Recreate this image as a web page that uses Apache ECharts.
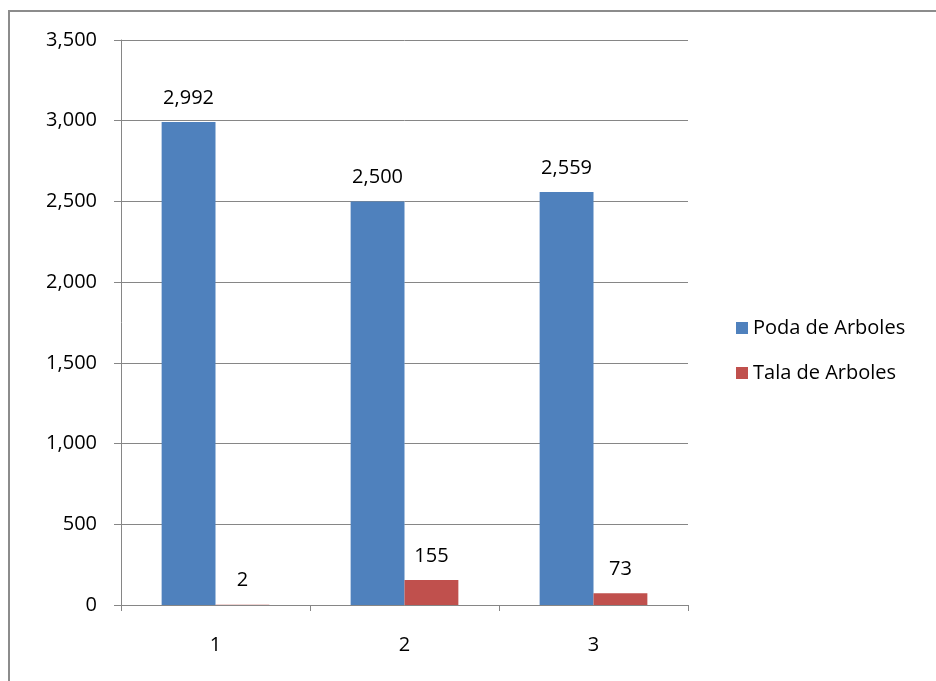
<!DOCTYPE html>
<html>
<head>
<meta charset="utf-8">
<script src="https://cdn.jsdelivr.net/npm/echarts@6/dist/echarts.min.js"></script>
<style>
html,body{margin:0;padding:0;background:#fff;}
#frame{position:absolute;left:8px;top:10px;width:1000px;height:1000px;border-left:2px solid #8c8c8c;border-top:2px solid #8c8c8c;box-sizing:border-box;}
#chart{position:absolute;left:0;top:0;width:936px;height:681px;}
</style>
</head>
<body>
<div id="frame"></div>
<div id="chart"></div>
<script>
const categories = ['1', '2', '3'];
const podaValues = [2992, 2500, 2559];
const talaValues = [2, 155, 73];
const seriesNames = ['Poda de Arboles', 'Tala de Arboles'];

const fmt = v => Number(v).toLocaleString('en-US');
const font = "'Open Sans', 'Noto Sans', sans-serif";
const fs = 20;

const chart = echarts.init(document.getElementById('chart'));
chart.setOption({
  animation: false,
  backgroundColor: 'transparent',
  textStyle: { fontFamily: font },
  grid: { left: 121, right: 248, top: 40, bottom: 76, containLabel: false },
  legend: {
    orient: 'vertical',
    left: 731,
    top: 313,
    itemWidth: 12,
    itemHeight: 12,
    itemGap: 25,
    icon: 'rect',
    textStyle: { fontSize: fs, color: '#000', fontFamily: font, padding: [0, 0, 0, 0] },
    data: seriesNames
  },
  xAxis: {
    type: 'category',
    data: categories,
    axisLine: { lineStyle: { color: '#868686', width: 1 } },
    axisTick: { show: true, length: 6, lineStyle: { color: '#868686' } },
    axisLabel: { fontSize: fs, color: '#000', margin: 30, fontFamily: font }
  },
  yAxis: {
    type: 'value',
    min: 0,
    max: 3500,
    interval: 500,
    axisLine: { show: true, lineStyle: { color: '#868686', width: 1 } },
    axisTick: { show: true, length: 7, lineStyle: { color: '#868686' } },
    splitLine: { lineStyle: { color: '#868686', width: 1 } },
    axisLabel: { fontSize: fs, color: '#000', margin: 24, fontFamily: font, formatter: v => fmt(v) }
  },
  series: [
    {
      name: seriesNames[0],
      type: 'bar',
      data: podaValues,
      barGap: '0%',
      barCategoryGap: '43%',
      itemStyle: { color: '#4F81BD' },
      label: { show: true, position: 'top', distance: 14, fontSize: fs, color: '#000', fontFamily: font, formatter: p => fmt(p.value) }
    },
    {
      name: seriesNames[1],
      type: 'bar',
      data: talaValues,
      barGap: '0%',
      barCategoryGap: '43%',
      itemStyle: { color: '#C0504D' },
      label: { show: true, position: 'top', distance: 14, fontSize: fs, color: '#000', fontFamily: font, formatter: p => fmt(p.value) }
    }
  ]
});
</script>
</body>
</html>
